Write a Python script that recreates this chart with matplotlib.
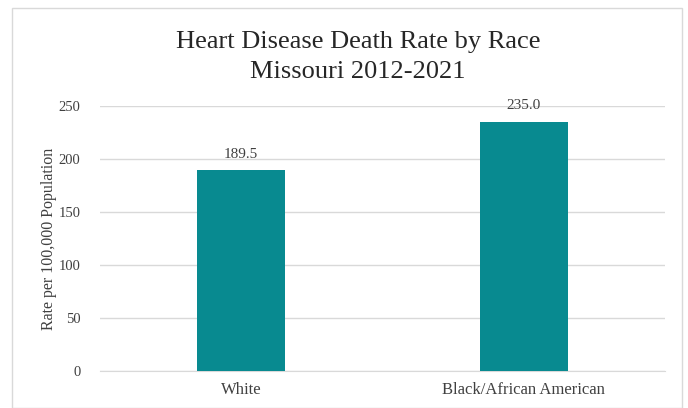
import matplotlib
matplotlib.use("Agg")
import matplotlib.pyplot as plt
from matplotlib.patches import Rectangle

categories = ["White", "Black/African American"]
values = [189.5, 235.0]
yticks = [0, 50, 100, 150, 200, 250]

plt.rcParams['font.family'] = ['Liberation Serif', 'DejaVu Serif']

fig = plt.figure(figsize=(6.88, 4.08), dpi=100)
fig.patches.append(Rectangle((12/688, 0.0), 670/688, 1-8/408, transform=fig.transFigure,
                             fill=False, edgecolor='#d9d9d9', linewidth=1))
ax = fig.add_axes([100/688, 1-371/408, 565/688, 265/408])
x = list(range(len(categories)))
bars = ax.bar(x, values, width=0.31, color='#088a90', zorder=3)
for xi, v in zip(x, values):
    ax.text(xi, v + 9, f"{v:.1f}", ha='center', va='bottom', fontsize=11, color='#404040')
ax.set_xlim(-0.5, 1.5)
ax.set_ylim(0, 250)
ax.set_yticks(yticks)
ax.set_xticks(x)
ax.set_xticklabels(categories, fontsize=12, color='#404040')
ax.tick_params(axis='y', labelsize=10.5, colors='#404040', length=0, pad=14)
ax.tick_params(axis='x', length=0, pad=8)
ax.grid(axis='y', color='#d9d9d9', linewidth=1, zorder=0)
for s in ['top', 'right', 'left']:
    ax.spines[s].set_visible(False)
ax.spines['bottom'].set_color('#d9d9d9')
ax.set_ylabel("Rate per 100,000 Population", fontsize=11.5, color='#404040')
ax.yaxis.set_label_coords((57 - 100) / 565, 0.5)
fig.text(358/688, 1-42/408, "Heart Disease Death Rate by Race", ha='center', va='center', fontsize=19, color='#262626')
fig.text(358/688, 1-72/408, "Missouri 2012-2021", ha='center', va='center', fontsize=19, color='#262626')
fig.savefig("out.png", dpi=100)
